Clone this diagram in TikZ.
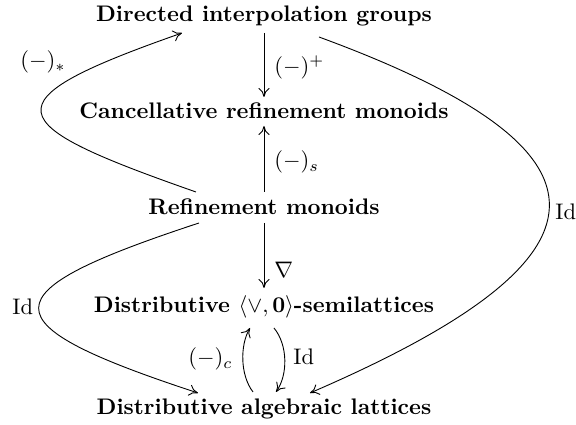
\documentclass[tikz,border=0pt]{standalone}
\usetikzlibrary{arrows.meta,calc}
\begin{document}
\begin{tikzpicture}[x=0.4444pt,y=-0.4444pt,
  obj/.style={font=\bfseries, anchor=base, inner sep=0pt},
  lbl/.style={anchor=base west, inner sep=0pt},
  lble/.style={anchor=base east, inner sep=0pt},
  arr/.style={-{To[length=4pt,width=5pt]}, line width=0.4pt}]
\useasboundingbox (0,0) rectangle (576,425);
\node[obj] (dir)  at (264,22)  {Directed interpolation groups};
\node[obj] (can)  at (264,119) {Cancellative refinement monoids};
\node[obj] (ref)  at (264,215) {Refinement monoids};
\node[obj] (semi) at (264,313) {Distributive $\langle\vee,\mathbf{0}\rangle$-semilattices};
\node[obj] (lat)  at (264,415) {Distributive algebraic lattices};

% straight vertical arrows
\draw[arr] ($(dir.base)+(0,11)$) -- ($(can.base)+(0,-22)$);
\draw[arr] ($(ref.base)+(0,-23)$) -- ($(can.base)+(0,7)$);
\draw[arr] ($(ref.base)+(0,8)$) -- ($(semi.base)+(0,-25)$);

% small pair between semilattices and lattices
\draw[arr] ($(lat.base)+(-11,-23)$) .. controls +(-13,-17) and +(-10,17) .. ($(semi.base)+(-14,15)$);
\draw[arr] ($(semi.base)+(10,15)$) .. controls +(14,17) and +(12,-17) .. ($(lat.base)+(12,-23)$);

% big curves
\draw[arr] ($(ref.base)+(-68,-23)$) .. controls +(-197,-69) and +(-197,69) .. ($(dir.base)+(-82,11)$);
\draw[arr] ($(ref.base)+(-65,8)$) .. controls +(-213,70) and +(-213,-70) .. ($(lat.base)+(-66,-22)$);
\draw[arr] ($(dir.base)+(55,15)$) .. controls +(313,115) and +(313,-135) .. ($(lat.base)+(46,-22)$);

% labels
\node[lbl]  (lplus) at (274,74)  {$(-)^{+}$};
\node[lbl]  (ls)    at (274,168) {$(-)_{s}$};
\node[lbl]  (lnab)  at (274,278) {$\nabla$};
\node[lbl]  (lstar) at (20,68)   {$(-)_{*}$};
\node[lbl]  (lidl)  at (12,315)  {$\mathrm{Id}$};
\node[lble] (lc)    at (233,365) {$(-)_{c}$};
\node[lbl]  (lids)  at (293,365) {$\mathrm{Id}$};
\node[lbl]  (lidr)  at (555,220) {$\mathrm{Id}$};
\end{tikzpicture}
\end{document}
